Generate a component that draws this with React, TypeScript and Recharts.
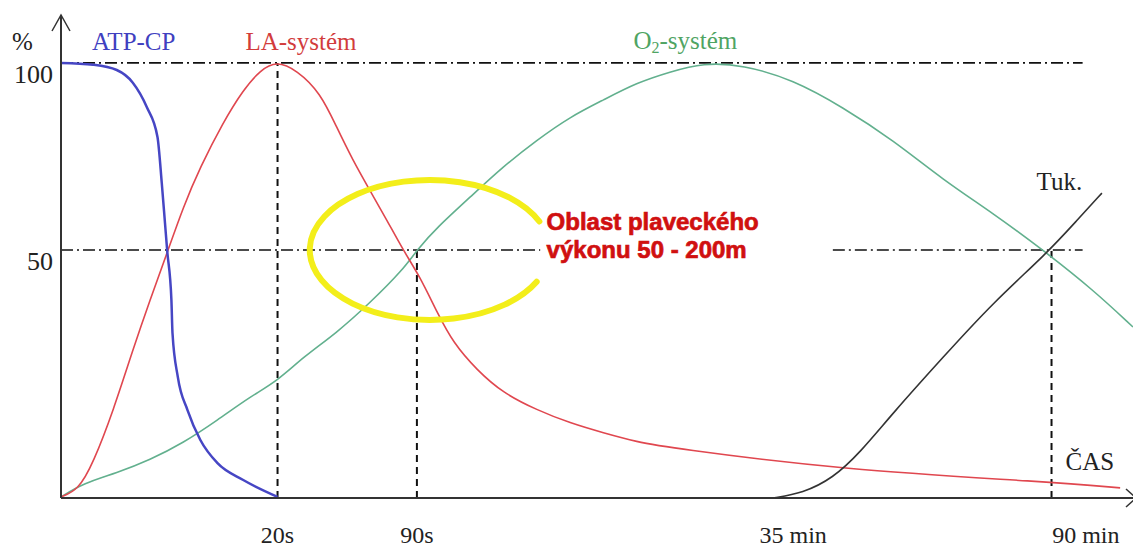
import { Line, LineChart, ReferenceDot, ReferenceLine, XAxis, YAxis } from "recharts";

// time axis is schematic (0-100 units), % axis goes through the 50 / 100 ticks
const atpCp = [
  [0, 100], [3.0, 99.5], [5.2, 98.1], [6.7, 94.7], [8.0, 88.2], [9.0, 80.2], [9.4, 67.9], [9.7, 57.2],
  [9.9, 50], [10.3, 36.6], [10.4, 27.8], [10.9, 16.0], [11.8, 7.2], [13.0, -0.8], [14.6, -7.0],
  [17.0, -11.5], [20.2, -16.0],
];
const laSystem = [
  [0, -16.0], [1.6, -14.2], [3.0, -7.0], [4.9, 7.2], [6.7, 23.3], [8.3, 36.6], [9.9, 49.2], [11.4, 61.5],
  [13.0, 72.2], [15.1, 84.0], [17.0, 92.8], [18.6, 98.1], [20.1, 100.5], [22.0, 98.1], [24.2, 92.0],
  [25.7, 82.9], [27.2, 74.1], [28.8, 66.0], [30.4, 58.0], [31.9, 50], [33.5, 42.8], [35.1, 33.2],
  [36.6, 25.1], [38.8, 17.9], [41.2, 11.8], [44.4, 7.2], [47.5, 3.7], [50.6, 1.1], [53.7, -1.3],
  [56.8, -2.9], [72.9, -8.8], [92.3, -12.0], [98.8, -13.6],
];
const o2System = [
  [0, -16.0], [2.1, -12.3], [5.2, -9.6], [8.3, -6.1], [11.4, -1.6], [14.6, 4.5], [17.6, 10.7], [20.2, 15.0],
  [22.6, 21.4], [25.7, 27.8], [28.8, 35.8], [31.9, 44.7], [33.2, 50], [35.1, 56.1], [38.2, 64.2],
  [41.2, 72.2], [44.4, 79.4], [47.5, 85.6], [50.6, 90.1], [53.7, 94.7], [56.8, 97.6], [59.9, 100],
  [63.6, 99.5], [68.3, 95.5], [72.9, 88.2], [77.6, 79.4], [82.3, 68.7], [86.9, 59.9], [91.6, 50],
  [96.3, 39.3], [100, 29.4],
];
const tuk = [
  [66.4, -16.3], [69.2, -15.0], [72.0, -11.0], [74.5, -4.3], [77.6, 6.4], [82.3, 21.4], [86.9, 35.8],
  [92.0, 49.2], [94.8, 58.0], [97.1, 65.2],
];

const xTicks = [20.2, 33.2, 68.3, 95.6];
const xTickLabels = ["20s", "90s", "35 min", "90 min"];
const yTicks = [50, 100];
const markT = { s20: 20.2, s90: 33.2, min90: 92.4 };

const Y_MIN = -16.3;
const Y_MAX = 112.8;

const serif = "'Liberation Serif', 'Times New Roman', serif";
const toPoints = (rows: number[][]) => rows.map(([t, v]) => ({ t, v }));

const textShape = (text: string, fill: string, size = 25) => (p: any) => (
  <text x={p.cx} y={p.cy} fill={fill} fontFamily={serif} fontSize={size}>{text}</text>
);

const dashDot = { stroke: "#111", strokeWidth: 1.6, strokeDasharray: "12 4 2 4" };
const dashed = { stroke: "#111", strokeWidth: 2, strokeDasharray: "7 5" };

export default function App() {
  return (
    <div style={{ position: "absolute", left: 0, top: 0, background: "#fff" }}>
      <LineChart width={1133} height={551} margin={{ top: 15, right: 0, bottom: 0, left: 0 }}>
        <XAxis
          dataKey="t" type="number" domain={[0, 100]} ticks={xTicks} height={53}
          tickLine={false} tickSize={0} tickMargin={0} axisLine={{ stroke: "#333", strokeWidth: 2 }}
          tick={({ x, y, index }: any) => (
            <text x={x} y={y + 45} textAnchor="middle" fontFamily={serif} fontSize={24} fill="#222">{xTickLabels[index]}</text>
          )}
        />
        <YAxis
          type="number" domain={[Y_MIN, Y_MAX]} ticks={yTicks} width={61}
          tickLine={false} tickSize={0} tickMargin={0} axisLine={{ stroke: "#333", strokeWidth: 2 }}
          tick={({ x, y, payload }: any) => (
            <text x={x - 8} y={y + 20} textAnchor="end" fontFamily={serif} fontSize={26} fill="#222">{payload.value}</text>
          )}
        />

        <ReferenceLine segment={[{ x: 0, y: 100 }, { x: 95.3, y: 100 }]} {...dashDot} />
        <ReferenceLine segment={[{ x: 0, y: 50 }, { x: 44.7, y: 50 }]} {...dashDot} />
        <ReferenceLine segment={[{ x: 72.0, y: 50 }, { x: 95.3, y: 50 }]} {...dashDot} />
        <ReferenceLine segment={[{ x: markT.s20, y: Y_MIN }, { x: markT.s20, y: 100 }]} {...dashed} />
        <ReferenceLine segment={[{ x: markT.s90, y: Y_MIN }, { x: markT.s90, y: 50 }]} {...dashed} />
        <ReferenceLine segment={[{ x: markT.min90, y: Y_MIN }, { x: markT.min90, y: 50 }]} {...dashed} />

        {/* swimming zone highlight */}
        <ReferenceDot
          x={34.4} y={50} r={0} ifOverflow="visible"
          shape={(p: any) => {
            const rx = 120, ry = 70;
            const a0 = (27 * Math.PI) / 180, a1 = (-24 * Math.PI) / 180;
            const d = `M ${p.cx + rx * Math.cos(a0)} ${p.cy + ry * Math.sin(a0)} A ${rx} ${ry} 0 1 1 ${p.cx + rx * Math.cos(a1)} ${p.cy + ry * Math.sin(a1)}`;
            return <path d={d} fill="none" stroke="#f3ee1a" strokeWidth={6} strokeLinecap="round" />;
          }}
        />

        <Line data={toPoints(o2System)} dataKey="v" type="basis" stroke="#62b08e" strokeWidth={1.6} dot={false} isAnimationActive={false} />
        <Line data={toPoints(laSystem)} dataKey="v" type="basis" stroke="#e0474f" strokeWidth={1.6} dot={false} isAnimationActive={false} />
        <Line data={toPoints(atpCp)} dataKey="v" type="monotone" stroke="#4646c4" strokeWidth={2.5} dot={false} isAnimationActive={false} />
        <Line data={toPoints(tuk)} dataKey="v" type="basis" stroke="#333" strokeWidth={1.6} dot={false} isAnimationActive={false} />

        <ReferenceDot x={2.9} y={103.5} r={0} ifOverflow="visible" shape={textShape("ATP-CP", "#4040c0")} />
        <ReferenceDot x={17.2} y={103.5} r={0} ifOverflow="visible" shape={textShape("LA-systém", "#d23c3c")} />
        <ReferenceDot
          x={53.4} y={103.7} r={0} ifOverflow="visible"
          shape={(p: any) => (
            <text x={p.cx} y={p.cy} fill="#4fa463" fontFamily={serif} fontSize={25}>
              O<tspan fontSize={16} dy={4}>2</tspan><tspan dy={-4}>-systém</tspan>
            </text>
          )}
        />
        <ReferenceDot x={91.0} y={66.0} r={0} ifOverflow="visible" shape={textShape("Tuk.", "#222")} />
        <ReferenceDot x={93.7} y={-8.8} r={0} ifOverflow="visible" shape={textShape("ČAS", "#222")} />
        <ReferenceDot
          x={0} y={103.5} r={0} ifOverflow="visible"
          shape={(p: any) => <text x={p.cx - 49} y={p.cy} fill="#222" fontFamily={serif} fontSize={25}>%</text>}
        />
        <ReferenceDot
          x={45.3} y={55.3} r={0} ifOverflow="visible"
          shape={(p: any) => (
            <text x={p.cx} y={p.cy} fill="#d01010" stroke="#d01010" strokeWidth={0.7} fontFamily="'Liberation Sans', Arial, sans-serif" fontWeight="bold" fontSize={24}>
              <tspan x={p.cx}>Oblast plaveckého</tspan>
              <tspan x={p.cx} dy={28}>výkonu 50 - 200m</tspan>
            </text>
          )}
        />

        {/* axis arrows */}
        <ReferenceDot
          x={0} y={Y_MAX} r={0} ifOverflow="visible"
          shape={(p: any) => <path d={`M ${p.cx - 9} ${p.cy + 16} L ${p.cx} ${p.cy} L ${p.cx + 9} ${p.cy + 16}`} fill="none" stroke="#333" strokeWidth={1.5} />}
        />
        <ReferenceDot
          x={100} y={Y_MIN} r={0} ifOverflow="visible"
          shape={(p: any) => <path d={`M ${p.cx - 7} ${p.cy - 9} L ${p.cx + 3} ${p.cy} L ${p.cx - 7} ${p.cy + 9}`} fill="none" stroke="#333" strokeWidth={1.5} />}
        />
      </LineChart>
    </div>
  );
}
